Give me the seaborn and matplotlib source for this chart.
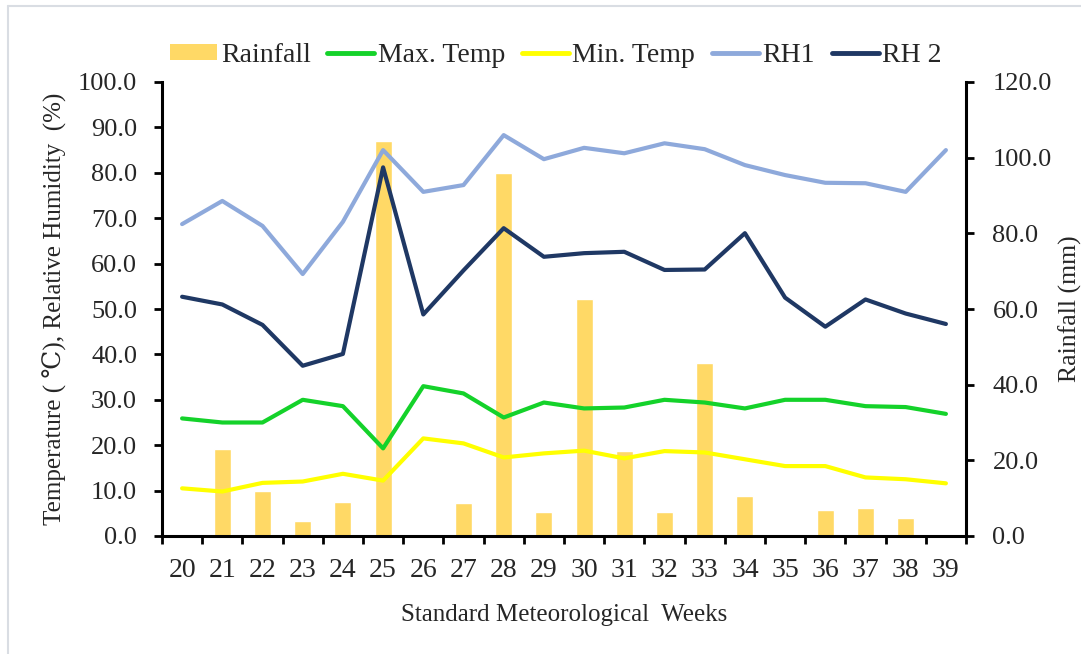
import pandas as pd
import matplotlib
matplotlib.use("Agg")
import matplotlib.pyplot as plt
import seaborn as sns
from matplotlib.lines import Line2D
from matplotlib.patches import Patch
from matplotlib.ticker import FormatStrFormatter, MultipleLocator, FixedLocator

# weekly weather data
weeks = [20, 21, 22, 23, 24, 25, 26, 27, 28, 29, 30, 31, 32, 33, 34, 35, 36, 37, 38, 39]
rainfall = [0.0, 23.0, 11.9, 4.0, 8.9, 104.3, 0.0, 8.6, 96.0, 6.3,
            62.6, 22.5, 6.3, 45.6, 10.7, 0.0, 6.9, 7.5, 4.8, 0.0]
max_temp = [25.9, 25.0, 25.0, 30.0, 28.6, 19.3, 33.0, 31.4, 26.1, 29.4,
            28.1, 28.3, 30.0, 29.4, 28.1, 30.0, 30.0, 28.6, 28.4, 26.9]
min_temp = [10.5, 9.8, 11.7, 12.0, 13.7, 12.2, 21.5, 20.4, 17.3, 18.2,
            18.8, 17.1, 18.7, 18.4, 16.9, 15.4, 15.4, 12.9, 12.5, 11.6]
rh1 = [68.7, 73.8, 68.3, 57.7, 69.2, 85.0, 75.8, 77.3, 88.3, 83.0,
       85.5, 84.3, 86.5, 85.2, 81.7, 79.5, 77.8, 77.7, 75.8, 85.0]
rh2 = [52.7, 51.0, 46.5, 37.5, 40.1, 81.2, 48.8, 58.5, 67.8, 61.5,
       62.3, 62.6, 58.6, 58.7, 66.7, 52.5, 46.1, 52.1, 49.0, 46.7]

series_names = ["Max. Temp", "Min. Temp", "RH1", "RH 2"]
series_values = [max_temp, min_temp, rh1, rh2]
colors = {"Max. Temp": "#14D22A", "Min. Temp": "#FFFF00", "RH1": "#8EA9DB", "RH 2": "#1F3864"}
bar_color = "#FFD966"

# long table for seaborn
rows = []
for name, vals in zip(series_names, series_values):
    for w, v in zip(weeks, vals):
        rows.append({"week": w, "value": v, "series": name})
lines_df = pd.DataFrame(rows)
rain_df = pd.DataFrame({"week": weeks, "rain": rainfall})

sns.set_theme(style="ticks")
plt.rcParams['font.family'] = ['Liberation Serif', 'DejaVu Serif']

fig = plt.figure(figsize=(10.81, 6.54), dpi=100)
ax = fig.add_axes([162 / 1081, 1 - 536 / 654, 804 / 1081, 454 / 654])
ax2 = ax.twinx()

# bars on the right axis
sns.barplot(data=rain_df, x="week", y="rain", native_scale=True, width=0.42,
            color=bar_color, saturation=1, errorbar=None, ax=ax2)

# lines on the left axis
sns.lineplot(data=lines_df, x="week", y="value", hue="series", hue_order=series_names,
             palette=colors, lw=3, legend=False, ax=ax)

ax.set_zorder(ax2.get_zorder() + 1)
ax.patch.set_visible(False)

# axes limits & ticks
ax.set_xlim(19.5, 39.5)
ax.set_ylim(0, 100)
ax2.set_ylim(0, 120)
ax.yaxis.set_major_locator(MultipleLocator(10))
ax.yaxis.set_major_formatter(FormatStrFormatter('%.1f'))
ax2.yaxis.set_major_locator(MultipleLocator(20))
ax2.yaxis.set_major_formatter(FormatStrFormatter('%.1f'))

ax.xaxis.set_major_locator(FixedLocator(weeks))
ax.set_xticklabels([str(w) for w in weeks])
ax.xaxis.set_minor_locator(FixedLocator([w - 0.5 for w in weeks] + [39.5]))
ax.tick_params(axis='x', which='major', length=0, pad=16, labelsize=20)
ax.tick_params(axis='x', which='minor', length=6, width=2, direction='out', color='black')
ax.tick_params(axis='y', length=6, width=2, direction='out', pad=12, labelsize=19, color='black')
ax2.tick_params(axis='y', length=6, width=2, direction='out', pad=13, labelsize=19, color='black')

for s in ["top", "right"]:
    ax.spines[s].set_visible(False)
for s in ["top", "left", "bottom"]:
    ax2.spines[s].set_visible(False)
ax.spines["left"].set_linewidth(2.2)
ax.spines["bottom"].set_linewidth(2.2)
ax2.spines["right"].set_linewidth(2.2)
for sp in list(ax.spines.values()) + list(ax2.spines.values()):
    sp.set_color("black")

ax.set_xlabel("Standard Meteorological  Weeks", fontsize=18)
ax.xaxis.set_label_coords(0.5, -0.15)
ax.set_ylabel("Temperature ( \u2103), Relative Humidity  (%)", fontsize=18)
ax.yaxis.set_label_coords(-0.118, 0.5)
ax2.set_ylabel("Rainfall (mm)", fontsize=18.5)
ax2.yaxis.set_label_coords(1.115, 0.5)

# legend
handles = [Patch(facecolor=bar_color, edgecolor='none')]
handles += [Line2D([], [], color=colors[n], lw=3.5) for n in series_names]
labels = ["Rainfall"] + series_names
ax.legend(handles, labels, loc='center', bbox_to_anchor=(0.49, 1.058), ncol=5,
          frameon=False, fontsize=20, handlelength=1.7, handleheight=0.5,
          handletextpad=0.12, columnspacing=0.6)

# thin frame round the figure
fig.add_artist(Line2D([8 / 1081, 8 / 1081], [0, 1 - 6 / 654], transform=fig.transFigure,
                      color='#D9DDE3', lw=1.5))
fig.add_artist(Line2D([8 / 1081, 1], [1 - 6 / 654, 1 - 6 / 654], transform=fig.transFigure,
                      color='#D9DDE3', lw=1.5))

fig.savefig("out.png", dpi=100)
